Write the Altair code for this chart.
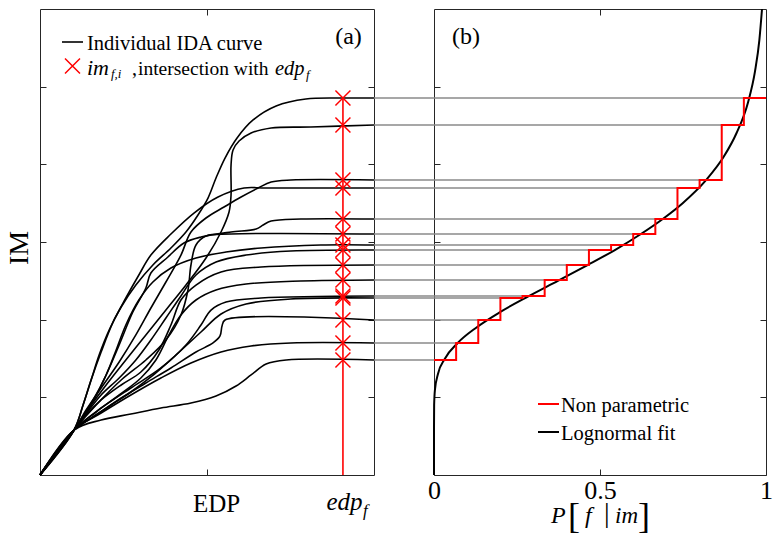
import altair as alt
import pandas as pd

# ---------------- data ----------------
EDP_F = 0.907  # edp_f position on the (unlabelled) EDP axis, 0..1

# im_f,i : intersection of each IDA curve with edp_f (sorted)
IM_F = [1.481, 1.700, 1.996, 2.279, 2.305, 2.511, 2.704, 2.897,
        2.961, 3.103, 3.296, 3.695, 3.798, 4.506, 4.854]

# individual IDA curves (EDP, IM)
IDA_EDP = [
    [0, 0.102, 0.129, 0.153, 0.177, 0.207, 0.243, 0.287, 0.338, 0.392, 0.437, 0.473, 0.503, 0.527, 0.554, 0.590, 0.638, 0.707, 0.796, 0.901, 1.0],
    [0, 0.102, 0.147, 0.198, 0.257, 0.317, 0.377, 0.437, 0.497, 0.542, 0.566, 0.572, 0.572, 0.578, 0.596, 0.632, 0.692, 0.811, 1.0],
    [0, 0.102, 0.138, 0.183, 0.237, 0.287, 0.332, 0.377, 0.422, 0.452, 0.497, 0.551, 0.602, 0.653, 0.692, 0.751, 1.0],
    [0, 0.102, 0.129, 0.153, 0.183, 0.219, 0.257, 0.296, 0.332, 0.392, 0.461, 0.533, 0.611, 0.677, 1.0],
    [0, 0.102, 0.153, 0.198, 0.237, 0.278, 0.317, 0.332, 0.383, 0.431, 0.482, 0.572, 0.647, 0.668, 0.692, 0.781, 1.0],
    [0, 0.102, 0.168, 0.243, 0.317, 0.377, 0.422, 0.443, 0.452, 0.467, 0.497, 0.572, 1.0],
    [0, 0.102, 0.159, 0.198, 0.228, 0.257, 0.296, 0.338, 0.392, 0.467, 0.557, 0.662, 0.841, 1.0],
    [0, 0.102, 0.147, 0.183, 0.237, 0.287, 0.332, 0.377, 0.422, 0.467, 0.527, 0.617, 0.751, 1.0],
    [0, 0.102, 0.138, 0.183, 0.243, 0.302, 0.356, 0.392, 0.422, 0.467, 0.542, 0.662, 1.0],
    [0, 0.102, 0.168, 0.237, 0.302, 0.347, 0.386, 0.422, 0.467, 0.527, 0.617, 0.781, 1.0],
    [0, 0.102, 0.183, 0.272, 0.362, 0.437, 0.482, 0.512, 0.557, 0.662, 1.0],
    [0, 0.102, 0.153, 0.213, 0.272, 0.332, 0.407, 0.482, 0.542, 0.617, 0.751, 1.0],
    [0, 0.102, 0.168, 0.243, 0.317, 0.392, 0.467, 0.518, 0.539, 0.545, 0.554, 1.0],
    [0, 0.102, 0.183, 0.272, 0.362, 0.452, 0.542, 0.632, 0.751, 1.0],
    [0, 0.102, 0.183, 0.272, 0.362, 0.452, 0.527, 0.587, 0.632, 0.677, 0.737, 1.0],
]
IDA_IM = [
    [0, 0.579, 0.901, 1.223, 1.545, 1.867, 2.163, 2.446, 2.704, 2.923, 3.129, 3.348, 3.566, 3.824, 4.081, 4.339, 4.571, 4.751, 4.841, 4.854, 4.854],
    [0, 0.579, 0.863, 1.159, 1.481, 1.803, 2.124, 2.446, 2.794, 3.129, 3.386, 3.605, 3.991, 4.184, 4.300, 4.403, 4.468, 4.481, 4.506],
    [0, 0.579, 0.837, 1.120, 1.455, 1.803, 2.150, 2.485, 2.832, 3.129, 3.309, 3.450, 3.579, 3.695, 3.772, 3.798, 3.798],
    [0, 0.579, 0.901, 1.223, 1.584, 1.970, 2.279, 2.575, 2.832, 3.103, 3.373, 3.579, 3.695, 3.695, 3.695],
    [0, 0.579, 0.901, 1.288, 1.674, 2.099, 2.408, 2.601, 2.807, 2.987, 3.064, 3.129, 3.167, 3.219, 3.270, 3.296, 3.296],
    [0, 0.579, 0.901, 1.223, 1.481, 1.738, 2.060, 2.382, 2.704, 2.961, 3.077, 3.103, 3.103],
    [0, 0.579, 0.966, 1.288, 1.609, 1.931, 2.253, 2.485, 2.665, 2.794, 2.871, 2.923, 2.961, 2.961],
    [0, 0.579, 0.837, 1.030, 1.249, 1.481, 1.738, 2.021, 2.305, 2.575, 2.742, 2.832, 2.884, 2.897],
    [0, 0.579, 0.772, 0.966, 1.159, 1.326, 1.609, 1.931, 2.253, 2.446, 2.614, 2.678, 2.704],
    [0, 0.579, 0.811, 1.030, 1.249, 1.481, 1.803, 2.060, 2.253, 2.382, 2.459, 2.498, 2.511],
    [0, 0.579, 0.863, 1.120, 1.378, 1.674, 1.931, 2.124, 2.227, 2.279, 2.305],
    [0, 0.579, 0.734, 0.901, 1.069, 1.262, 1.545, 1.841, 2.073, 2.202, 2.266, 2.279],
    [0, 0.579, 0.772, 0.991, 1.185, 1.378, 1.584, 1.700, 1.790, 1.919, 1.996, 1.996],
    [0, 0.579, 0.798, 1.030, 1.249, 1.442, 1.584, 1.661, 1.700, 1.700],
    [0, 0.579, 0.708, 0.785, 0.863, 0.927, 1.017, 1.146, 1.288, 1.429, 1.481, 1.481],
]

# lognormal fit, P[f | im] read along the IM axis
LOGN_IM = [0.0, 0.6, 0.9, 1.1, 1.3, 1.5, 1.7, 1.9, 2.1, 2.3, 2.5, 2.7, 2.9,
           3.1, 3.3, 3.5, 3.8, 4.1, 4.4, 4.8, 5.2, 5.6, 6.0]
LOGN_P = [0.0, 0.00001, 0.0004, 0.0029, 0.0119, 0.0332, 0.0714, 0.128, 0.200,
          0.284, 0.373, 0.461, 0.546, 0.622, 0.690, 0.749, 0.820, 0.873,
          0.911, 0.946, 0.967, 0.980, 0.988]

# ---------------- layout / style ----------------
W1, W2, H = 334, 332, 466
GAP = 60
FRAME = "#262626"
FONT = "Liberation Serif"
N = len(IM_F)

ida_rows = []
for c, (xs, ys) in enumerate(zip(IDA_EDP, IDA_IM)):
    for i, (x, y) in enumerate(zip(xs, ys)):
        ida_rows.append({"curve": c, "i": i, "edp": x, "im": y})
ida = pd.DataFrame(ida_rows)

step_rows = []
for k, v in enumerate(IM_F):
    step_rows.append({"p": k / N, "im": v, "o": 2 * k})
    step_rows.append({"p": (k + 1) / N, "im": v, "o": 2 * k + 1})
step = pd.DataFrame(step_rows)

gray = pd.DataFrame({"p0": [k / N for k in range(N)], "im": IM_F})
marks = pd.DataFrame({"edp": [EDP_F] * N, "im": IM_F})
vline = pd.DataFrame({"edp": [EDP_F], "lo": [0.0], "hi": [max(IM_F)]})
logn = pd.DataFrame({"p": LOGN_P, "im": LOGN_IM})
ONE = pd.DataFrame({"z": [0]})

xs_l = alt.Scale(domain=[0, 1], nice=False, zero=False)
xs_r = alt.Scale(domain=[0, 1], nice=False, zero=False)
ys = alt.Scale(domain=[0, 6], nice=False, zero=False)
TICKS_Y = [1, 2, 3, 4, 5]
X_PATH = "M -1 -1 L 1 1 M -1 1 L 1 -1"


def inward(orient, values):
    return alt.Axis(orient=orient, values=values, labels=False, domain=False,
                    ticks=True, tickSize=6, offset=-6, tickColor=FRAME,
                    tickWidth=1, title=None, grid=False)


def txt(s, x, y, size, style="normal", align="left", angle=0, color="black"):
    kw = dict(text=s, font=FONT, fontSize=size, fontStyle=style, align=align,
              baseline="alphabetic", color=color)
    if angle:
        kw["angle"] = angle
        kw["baseline"] = "middle"
    return alt.Chart(ONE).mark_text(**kw).encode(x=alt.value(x), y=alt.value(y))


# ---------------- panel (a) ----------------
curves = alt.Chart(ida).mark_line(color="black", strokeWidth=1.6,
                                  interpolate="catmull-rom").encode(
    x=alt.X("edp:Q", scale=xs_l, axis=inward("bottom", [0.5])),
    y=alt.Y("im:Q", scale=ys, axis=inward("left", TICKS_Y)),
    detail="curve:N", order="i:Q")

red_line = alt.Chart(vline).mark_rule(color="red", strokeWidth=1.6).encode(
    x=alt.X("edp:Q", scale=xs_l, axis=None),
    y=alt.Y("lo:Q", scale=ys, axis=None), y2="hi:Q")

x_marks = alt.Chart(marks).mark_point(shape=X_PATH, color="red", filled=False,
                                      size=225, strokeWidth=1.5, opacity=1).encode(
    x=alt.X("edp:Q", scale=xs_l, axis=inward("top", [0.5])),
    y=alt.Y("im:Q", scale=ys, axis=inward("right", TICKS_Y)))

leg_line_a = alt.Chart(ONE).mark_rule(color="black", strokeWidth=1.6).encode(
    x=alt.value(22), x2=alt.value(43), y=alt.value(33))
leg_x_a = alt.Chart(ONE).mark_point(shape=X_PATH, color="red", filled=False,
                                    size=225, strokeWidth=1.5, opacity=1).encode(
    x=alt.value(32.5), y=alt.value(57))

panel_a = alt.layer(
    curves, red_line, x_marks, leg_line_a, leg_x_a,
    txt("Individual IDA curve", 47, 40.5, 20.5),
    txt("im", 47, 66, 22, "italic"),
    txt("f,i", 71, 69, 13, "italic"),
    txt(",", 92, 66, 20),
    txt("intersection with", 98, 66, 19.5),
    txt("edp", 235, 66, 20.5, "italic"),
    txt("f", 266, 70, 13, "italic"),
    txt("(a)", 308.5, 34.5, 24, align="center"),
    txt("EDP", 176.5, 503, 25, align="center"),
    txt("edp", 304.5, 501, 25, "italic", align="center"),
    txt("f", 323, 507, 17, "italic"),
    txt("IM", -20, 239, 28, align="center", angle=270),
).resolve_axis(x="independent", y="independent").properties(width=W1, height=H)

# ---------------- panel (b) ----------------
gray_lines = alt.Chart(gray).mark_rule(color="#8a8a8a", strokeWidth=1.5).encode(
    x=alt.X("p0:Q", scale=xs_r, axis=None), x2=alt.value(-GAP),
    y=alt.Y("im:Q", scale=ys, axis=None))

logn_line = alt.Chart(logn).mark_line(color="black", strokeWidth=2,
                                      interpolate="monotone").encode(
    x=alt.X("p:Q", scale=xs_r,
            axis=alt.Axis(orient="bottom", values=[0, 0.5, 1], format="~g",
                          labelFont=FONT, labelFontSize=26, labelColor="black",
                          labelPadding=2, labelFlush=False, domain=False,
                          tickSize=6, offset=-6, tickColor=FRAME, title=None,
                          grid=False)),
    y=alt.Y("im:Q", scale=ys, axis=inward("left", TICKS_Y)),
    order="im:Q")

step_line = alt.Chart(step).mark_line(color="red", strokeWidth=2).encode(
    x=alt.X("p:Q", scale=xs_r, axis=inward("top", [0.5])),
    y=alt.Y("im:Q", scale=ys, axis=inward("right", TICKS_Y)),
    order="o:Q")

leg_red = alt.Chart(ONE).mark_rule(color="red", strokeWidth=2).encode(
    x=alt.value(104), x2=alt.value(125), y=alt.value(395))
leg_blk = alt.Chart(ONE).mark_rule(color="black", strokeWidth=2).encode(
    x=alt.value(104), x2=alt.value(125), y=alt.value(423))

panel_b = alt.layer(
    gray_lines, logn_line, step_line, leg_red, leg_blk,
    txt("Non parametric", 127, 403, 20.5),
    txt("Lognormal fit", 127, 431, 20.5),
    txt("(b)", 32, 34.5, 24, align="center"),
    txt("P", 117, 514, 24, "italic"),
    txt("[", 134, 519, 36),
    txt("f", 151, 514, 24, "italic"),
    txt("|", 170, 513, 28),
    txt("im", 181, 514, 23, "italic"),
    txt("]", 204, 519, 36),
).resolve_axis(x="independent", y="independent").properties(width=W2, height=H)

chart = alt.hconcat(panel_a, panel_b, spacing=GAP, bounds="flush").properties(
    padding={"left": 5, "top": 4, "right": 0, "bottom": 0}
).configure(font=FONT).configure_view(stroke=FRAME, strokeWidth=1)

chart.save("out.html", embed_options={"renderer": "svg", "actions": False})
